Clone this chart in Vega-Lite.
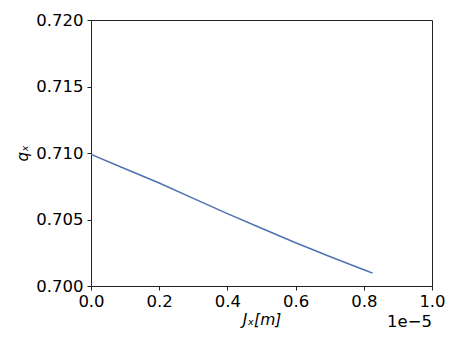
{
  "$schema": "https://vega.github.io/schema/vega-lite/v6.json",
  "width": 341,
  "height": 266,
  "autosize": {"type": "none"},
  "padding": {"left": 91, "top": 20, "right": 28, "bottom": 59},
  "background": "white",
  "config": {
    "view": {"stroke": "#222222", "strokeWidth": 1},
    "font": "DejaVu Sans",
    "axis": {
      "grid": false,
      "domain": false,
      "tickColor": "#222222",
      "tickSize": 4,
      "tickWidth": 1,
      "labelFont": "DejaVu Sans",
      "labelFontSize": 16.5,
      "labelColor": "#000000",
      "titleFont": "DejaVu Sans",
      "titleFontSize": 15.5,
      "titleFontWeight": "normal",
      "titleColor": "#000000"
    }
  },
  "datasets": {
    "curve": [
      {"Jx": 0.0, "qx": 0.70990},
      {"Jx": 1.0e-6, "qx": 0.70882},
      {"Jx": 2.0e-6, "qx": 0.70774},
      {"Jx": 3.0e-6, "qx": 0.70659},
      {"Jx": 4.0e-6, "qx": 0.70544},
      {"Jx": 5.0e-6, "qx": 0.70434},
      {"Jx": 6.0e-6, "qx": 0.70325},
      {"Jx": 7.0e-6, "qx": 0.70222},
      {"Jx": 8.0e-6, "qx": 0.70122},
      {"Jx": 8.26e-6, "qx": 0.70097}
    ],
    "offset": [{"Jx": 1.0e-5, "qx": 0.700, "t": "1e−5"}]
  },
  "layer": [
    {
      "data": {"name": "curve"},
      "mark": {"type": "line", "color": "#4C72B0", "strokeWidth": 1.5},
      "encoding": {
        "x": {
          "field": "Jx",
          "type": "quantitative",
          "scale": {"domain": [0, 1.0e-5], "nice": false, "zero": false},
          "axis": {
            "values": [0, 2e-6, 4e-6, 6e-6, 8e-6, 1e-5],
            "labelExpr": "format(datum.value * 1e5, '.1f')",
            "labelPadding": 3,
            "labelFlush": false,
            "labelOverlap": false,
            "title": "Jₓ[m]",
            "titleFontStyle": "italic",
            "titlePadding": 3
          }
        },
        "y": {
          "field": "qx",
          "type": "quantitative",
          "scale": {"domain": [0.700, 0.720], "nice": false, "zero": false},
          "axis": {
            "values": [0.700, 0.705, 0.710, 0.715, 0.720],
            "format": ".3f",
            "labelPadding": 4,
            "labelFlush": false,
            "labelOverlap": false,
            "title": "qₓ",
            "titleFontStyle": "italic",
            "titleFontSize": 15,
            "titlePadding": 5
          }
        }
      }
    },
    {
      "data": {"name": "offset"},
      "mark": {
        "type": "text",
        "align": "right",
        "baseline": "alphabetic",
        "dy": 41,
        "fontSize": 16.5,
        "font": "DejaVu Sans",
        "color": "#000000",
        "clip": false
      },
      "encoding": {
        "x": {"field": "Jx", "type": "quantitative"},
        "y": {"field": "qx", "type": "quantitative"},
        "text": {"field": "t"}
      }
    }
  ]
}
